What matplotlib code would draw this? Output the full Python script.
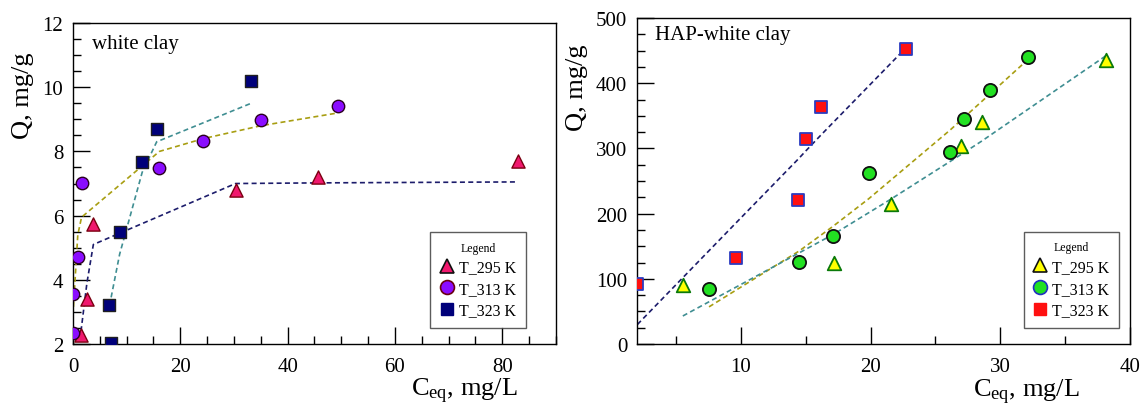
import matplotlib
matplotlib.use("Agg")
import matplotlib.pyplot as plt
from matplotlib.lines import Line2D
from matplotlib.ticker import MultipleLocator

plt.rcParams.update({
    "font.family": ["Liberation Serif", "DejaVu Serif"],
    "mathtext.fontset": "custom",
    "mathtext.rm": "Liberation Serif",
    "mathtext.it": "Liberation Serif:italic",
    "font.size": 15,
})

# ---- white clay (left) ----
wc_x295 = [1.5, 2.6, 3.8, 30.3, 45.6, 82.9]
wc_y295 = [2.28, 3.41, 5.75, 6.81, 7.21, 7.70]
wc_fit295 = [2.4, 3.9, 5.1, 7.0, 7.02, 7.05]

wc_x313 = [0.0, 0.07, 0.9, 1.6, 16.1, 24.3, 35.0, 49.4]
wc_y313 = [2.33, 3.55, 4.71, 7.01, 7.49, 8.31, 8.97, 9.41]
wc_fit313 = [2.9, 3.1, 5.4, 5.95, 8.0, 8.4, 8.8, 9.2]

wc_x323 = [6.8, 7.05, 8.7, 12.9, 15.6, 33.2]
wc_y323 = [3.22, 2.02, 5.49, 7.67, 8.69, 10.20]
wc_fit323 = [3.2, 3.4, 4.8, 7.35, 8.3, 9.5]

# ---- HAP-white clay (right) ----
hap_x295 = [5.53, 17.2, 21.55, 27.0, 28.55, 38.13]
hap_y295 = [90, 125, 214, 304, 341, 436]
hap_fit295 = [43, 169, 222, 291, 311, 442]

hap_x313 = [7.55, 14.52, 17.07, 19.87, 26.12, 27.18, 29.23, 32.11]
hap_y313 = [84, 126, 165, 262, 294, 345, 389, 440]
hap_fit313 = [57, 143, 180, 223, 328, 347, 384, 436]

hap_x323 = [2.03, 9.59, 14.44, 15.0, 16.15, 22.76]
hap_y323 = [92, 132, 221, 314, 364, 452]
hap_fit323 = [30, 185, 284, 296, 320, 455]

labels = ["T_295 K", "T_313 K", "T_323 K"]

NAVY_LINE = "#1c1c6b"
OLIVE_LINE = "#a89e12"
TEAL_LINE = "#3f8e92"

fig = plt.figure(figsize=(11.4, 4.06), dpi=100)
ax1 = fig.add_axes([0.0640, 0.1502, 0.4237, 0.7906])
ax2 = fig.add_axes([0.5588, 0.1502, 0.4325, 0.8030])

dash = dict(ls=(0, (3, 2)), lw=1.2, zorder=2)

# left panel
ax1.plot(wc_x295, wc_fit295, color=NAVY_LINE, **dash)
ax1.plot(wc_x313, wc_fit313, color=OLIVE_LINE, **dash)
ax1.plot(wc_x323, wc_fit323, color=TEAL_LINE, **dash)
ax1.scatter(wc_x295, wc_y295, marker="^", s=90, c="#f0186e", edgecolors="#7a0010", lw=1.0, zorder=3)
ax1.scatter(wc_x313, wc_y313, marker="o", s=80, c="#8a0cff", edgecolors="#2a0020", lw=1.0, zorder=3)
ax1.scatter(wc_x323, wc_y323, marker="s", s=75, c="#00007a", edgecolors="#202020", lw=1.0, zorder=3)
ax1.set_xlim(0, 90)
ax1.set_ylim(2, 12)
ax1.xaxis.set_major_locator(MultipleLocator(20))
ax1.xaxis.set_minor_locator(MultipleLocator(5))
ax1.yaxis.set_major_locator(MultipleLocator(2))
ax1.yaxis.set_minor_locator(MultipleLocator(0.5))
ax1.text(0.04, 0.935, "white clay", transform=ax1.transAxes, fontsize=15, va="center")

# right panel
ax2.plot(hap_x323, hap_fit323, color=NAVY_LINE, **dash)
ax2.plot(hap_x313, hap_fit313, color=OLIVE_LINE, **dash)
ax2.plot(hap_x295, hap_fit295, color=TEAL_LINE, **dash)
ax2.scatter(hap_x295, hap_y295, marker="^", s=95, c="#ffff00", edgecolors="#0a7a0a", lw=1.3, zorder=3)
ax2.scatter(hap_x313, hap_y313, marker="o", s=90, c="#22e022", edgecolors="#101010", lw=1.3, zorder=3)
ax2.scatter(hap_x323, hap_y323, marker="s", s=80, c="#ff1010", edgecolors="#2c3cc0", lw=1.3, zorder=3)
ax2.set_xlim(2, 40)
ax2.set_ylim(0, 500)
ax2.xaxis.set_major_locator(MultipleLocator(10))
ax2.xaxis.set_minor_locator(MultipleLocator(5))
ax2.yaxis.set_major_locator(MultipleLocator(100))
ax2.yaxis.set_minor_locator(MultipleLocator(25))
ax2.text(0.037, 0.95, "HAP-white clay", transform=ax2.transAxes, fontsize=15, va="center")

for ax in (ax1, ax2):
    ax.tick_params(which="both", direction="in", top=False, right=False, labelsize=15, width=1.0)
    ax.tick_params(which="major", length=12)
    ax.tick_params(which="minor", length=6)
    ax.tick_params(axis="x", which="major", pad=9)
    ax.tick_params(axis="y", which="major", pad=7)
    for sp in ax.spines.values():
        sp.set_linewidth(1.0)
    ax.set_ylabel("Q, mg/g", fontsize=19)
    ax.set_xlabel(r"C$_{\rm eq}$, mg/L", fontsize=19)

ax1.yaxis.set_label_coords(-0.080, 0.776)
ax1.xaxis.set_label_coords(0.81, -0.10)
ax2.yaxis.set_label_coords(-0.099, 0.788)
ax2.xaxis.set_label_coords(0.79, -0.10)


def make_legend(ax, handles, anchor):
    leg = ax.legend(handles=handles, title="Legend", loc="upper right", bbox_to_anchor=anchor,
                    fontsize=11.5, title_fontsize=8.5, frameon=True, fancybox=False,
                    edgecolor="#333333", handlelength=0.9, handletextpad=0.3,
                    labelspacing=0.35, borderpad=0.6, borderaxespad=0)
    leg.get_frame().set_linewidth(1.0)
    return leg


h1 = [Line2D([], [], ls="", marker="^", ms=10, mfc="#f0186e", mec="#101010", mew=1.2),
      Line2D([], [], ls="", marker="o", ms=10, mfc="#8a0cff", mec="#6a0010", mew=1.2),
      Line2D([], [], ls="", marker="s", ms=9, mfc="#00007a", mec="#00007a", mew=1.0)]
h2 = [Line2D([], [], ls="", marker="^", ms=10, mfc="#ffff00", mec="#101010", mew=1.2),
      Line2D([], [], ls="", marker="o", ms=10, mfc="#22e022", mec="#2030c0", mew=1.2),
      Line2D([], [], ls="", marker="s", ms=9, mfc="#ff1010", mec="#ff1010", mew=1.0)]
for h, lab in zip(h1, labels):
    h.set_label(lab)
for h, lab in zip(h2, labels):
    h.set_label(lab)

make_legend(ax1, h1, (0.938, 0.349))
make_legend(ax2, h2, (0.978, 0.344))

fig.savefig("out.png", dpi=100)
